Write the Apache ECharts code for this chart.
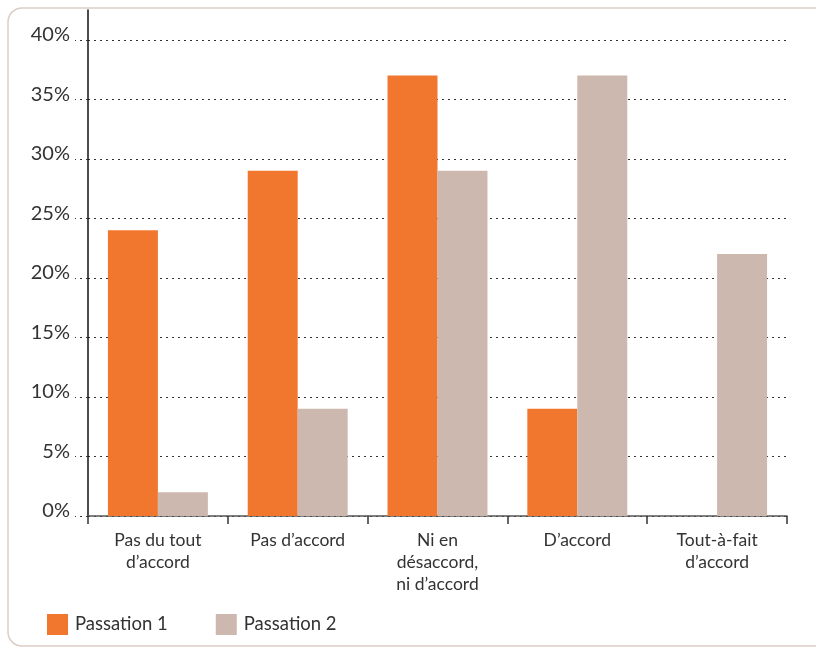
<!DOCTYPE html>
<html>
<head>
<meta charset="utf-8">
<script src="https://cdn.jsdelivr.net/npm/echarts@6/dist/echarts.min.js"></script>
<style>
  html, body { margin: 0; padding: 0; background: #fff; }
  #chart { width: 816px; height: 649px; }
</style>
</head>
<body>
<div id="chart"></div>
<script>
const categories = ['Pas du tout\nd\u2019accord', 'Pas d\u2019accord', 'Ni en\nd\u00e9saccord,\nni d\u2019accord', 'D\u2019accord', 'Tout-\u00e0-fait\nd\u2019accord'];
const passation1 = [24, 29, 37, 9, 0];
const passation2 = [2, 9, 29, 37, 22];
const seriesNames = ['Passation 1', 'Passation 2'];

const chart = echarts.init(document.getElementById('chart'));
const font = 'Lato, "Noto Sans", sans-serif';

chart.setOption({
  animation: false,
  textStyle: { fontFamily: font },
  graphic: [{
    type: 'rect',
    shape: { x: 8, y: 8, width: 830, height: 638, r: 14 },
    style: { fill: 'none', stroke: '#ddcdc6', lineWidth: 1.5 },
    z: -1
  }],
  legend: {
    left: 47,
    top: 614,
    padding: 0,
    itemWidth: 21,
    itemHeight: 21,
    itemGap: 48,
    icon: 'rect',
    textStyle: { fontFamily: font, fontSize: 18.5, color: '#333', padding: [0, 0, 0, 2] },
    data: seriesNames
  },
  grid: { left: 88, right: 29, top: 10, bottom: 133, containLabel: false },
  xAxis: {
    type: 'category',
    data: categories,
    axisLine: { lineStyle: { color: '#555', width: 1.5 } },
    axisTick: { show: true, length: 8, lineStyle: { color: '#333', width: 1.5 } },
    axisLabel: { fontFamily: font, fontSize: 17.5, color: '#333', lineHeight: 22, margin: 13 }
  },
  yAxis: {
    type: 'value',
    min: 0,
    max: 42.5,
    interval: 5,
    axisLine: { show: true, lineStyle: { color: '#111', width: 1.5 } },
    axisTick: { show: true, length: 13, lineStyle: { color: '#333', type: [2, 4], width: 1 } },
    axisLabel: {
      fontFamily: font, fontSize: 20, color: '#333', margin: 18,
      verticalAlign: 'bottom', lineHeight: 10,
      showMaxLabel: false,
      formatter: v => (v % 5 === 0 ? v + '%' : '')
    },
    splitLine: { show: true, showMaxLine: false, lineStyle: { color: '#333', type: [2, 4], width: 1 } }
  },
  series: [
    { name: seriesNames[0], type: 'bar', data: passation1, barGap: '0%', barCategoryGap: '28.5%', itemStyle: { color: '#f2772e' } },
    { name: seriesNames[1], type: 'bar', data: passation2, barGap: '0%', barCategoryGap: '28.5%', itemStyle: { color: '#cdb8b0' } }
  ]
});
</script>
</body>
</html>
